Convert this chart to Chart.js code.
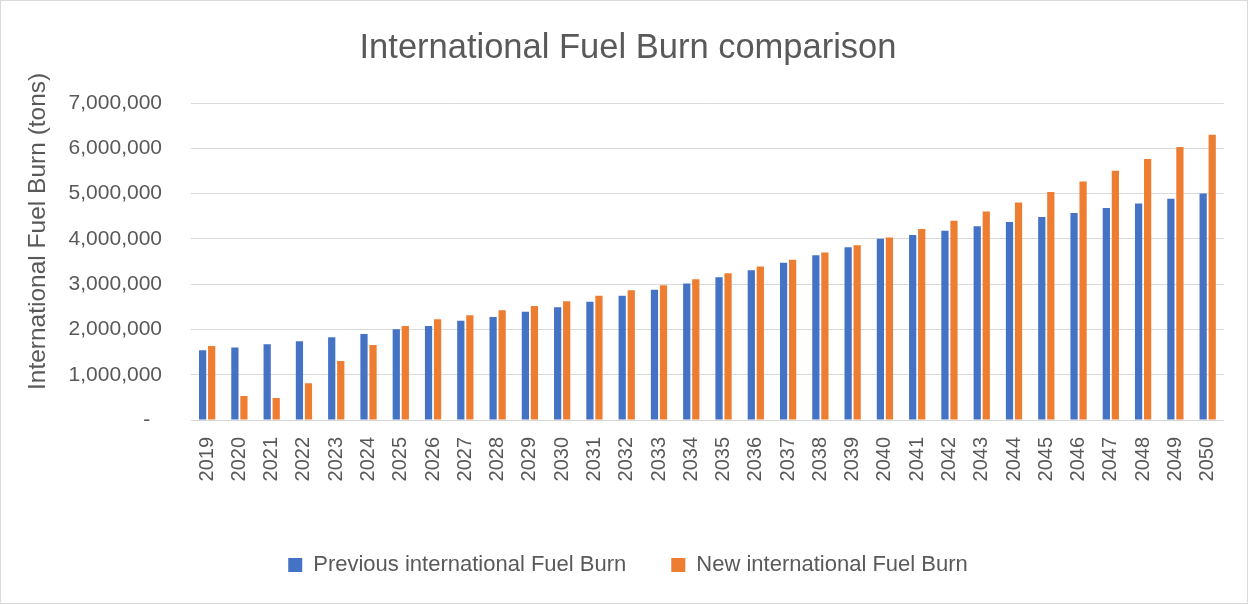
<!DOCTYPE html>
<html>
<head>
<meta charset="utf-8">
<script src="https://cdn.jsdelivr.net/npm/chart.js@4.4.1/dist/chart.umd.min.js"></script>
<style>
  html, body { margin: 0; padding: 0; background: #fff; }
  #wrap { width: 1249px; height: 605px; position: relative; }
</style>
</head>
<body>
<div id="wrap"><canvas id="c" width="1249" height="605"></canvas></div>
<script>
const years = ['2019','2020','2021','2022','2023','2024','2025','2026','2027','2028','2029','2030','2031','2032','2033','2034','2035','2036','2037','2038','2039','2040','2041','2042','2043','2044','2045','2046','2047','2048','2049','2050'];
const previousFuelBurn = [1540000,1600000,1673000,1739000,1827000,1900000,2004000,2078000,2189000,2277000,2388000,2491000,2609000,2741000,2874000,3014000,3154000,3309000,3471000,3640000,3817000,4000000,4083000,4178000,4280000,4370000,4480000,4569000,4680000,4783000,4886000,5004000];
const newFuelBurn = [1636000,530000,486000,810000,1304000,1658000,2078000,2225000,2314000,2424000,2520000,2623000,2741000,2867000,2977000,3110000,3242000,3390000,3537000,3699000,3861000,4030000,4215000,4400000,4606000,4805000,5033000,5269000,5505000,5763000,6028000,6300000];
const yTicks = [0,1000000,2000000,3000000,4000000,5000000,6000000,7000000];
const seriesNames = ['Previous international Fuel Burn','New international Fuel Burn'];
const chartTitle = 'International Fuel Burn comparison';
const yTitle = 'International Fuel Burn (tons)';

const FONT = "'Liberation Sans', Arial, sans-serif";
const TXT = '#595959';
const GRID = '#d9d9d9';

const frame = {
  id: 'frame',
  beforeDraw(chart) {
    const ctx = chart.ctx;
    ctx.save();
    ctx.fillStyle = '#fff';
    ctx.fillRect(0, 0, chart.width, chart.height);
    ctx.strokeStyle = GRID;
    ctx.lineWidth = 1;
    ctx.strokeRect(0.5, 0.5, chart.width - 2, chart.height - 2);
    ctx.restore();
  }
};

// Y-axis title, placed as in the reference (centred slightly above the plot centre)
const yTitlePlugin = {
  id: 'yTitlePlugin',
  afterDraw(chart) {
    const ctx = chart.ctx;
    const area = chart.chartArea;
    ctx.save();
    ctx.fillStyle = TXT;
    ctx.font = "24.5px " + FONT;
    ctx.textAlign = 'center';
    ctx.textBaseline = 'middle';
    ctx.translate(38, area.top + (area.bottom - area.top) * 0.405);
    ctx.rotate(-Math.PI / 2);
    ctx.fillText(yTitle, 0, 0);
    ctx.restore();
  }
};

new Chart(document.getElementById('c'), {
  type: 'bar',
  data: {
    labels: years,
    datasets: [
      { label: seriesNames[0], data: previousFuelBurn, backgroundColor: '#4472C4', categoryPercentage: 0.56, barPercentage: 0.8 },
      { label: seriesNames[1], data: newFuelBurn, backgroundColor: '#ED7D31', categoryPercentage: 0.56, barPercentage: 0.8 }
    ]
  },
  options: {
    responsive: false,
    animation: false,
    devicePixelRatio: 1,
    layout: { padding: { left: 28, right: 21, top: 0, bottom: 19 } },
    plugins: {
      title: {
        display: true,
        text: chartTitle,
        color: TXT,
        font: { family: FONT, size: 34.5, weight: 'normal' },
        padding: { top: 28, bottom: 33.6 }
      },
      legend: {
        position: 'bottom',
        labels: {
          color: TXT,
          font: { family: FONT, size: 22 },
          boxWidth: 14,
          boxHeight: 14,
          padding: 45
        }
      },
      tooltip: { enabled: false }
    },
    scales: {
      x: {
        grid: { display: false, drawTicks: false },
        border: { display: true, color: GRID, width: 1 },
        ticks: {
          color: TXT,
          font: { family: FONT, size: 20 },
          minRotation: 90,
          maxRotation: 90,
          padding: 17,
          autoSkip: false
        },
        afterFit(scale) { scale.height = 89; }
      },
      y: {
        min: 0,
        max: 7000000,
        afterBuildTicks(scale) { scale.ticks = yTicks.map(v => ({ value: v })); },
        grid: { color: GRID, lineWidth: 1, drawTicks: false },
        border: { display: false },
        ticks: {
          color: TXT,
          font: { family: FONT, size: 21 },
          padding: 29,
          callback(v) { return v === 0 ? '-  ' : v.toLocaleString('en-US'); }
        },
        afterFit(scale) { scale.width = 163; }
      }
    }
  },
  plugins: [frame, yTitlePlugin]
});
</script>
</body>
</html>
